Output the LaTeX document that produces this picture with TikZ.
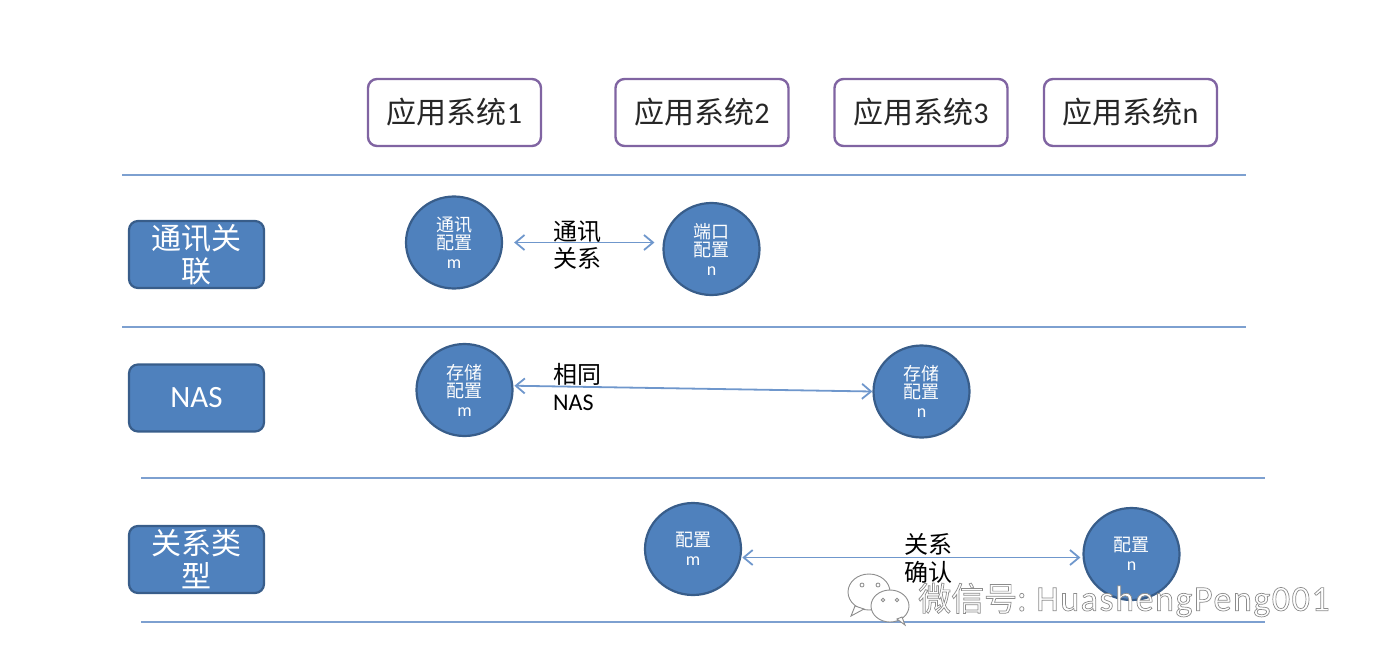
\documentclass[tikz,border=0pt]{standalone}
\usepackage{fontspec}
\setmainfont{Carlito}
\newfontfamily\cjk{Noto Sans CJK SC}
\newfontfamily\wmlatin[LetterSpace=4.3]{Carlito}
\usetikzlibrary{arrows.meta,positioning,shapes.geometric}
\definecolor{blueF}{HTML}{4F81BD}
\definecolor{blueD}{HTML}{385D8A}
\definecolor{purpleB}{HTML}{8064A2}
\definecolor{lineB}{HTML}{7DA0D0}
\definecolor{arrowB}{HTML}{6F97CC}
\newcommand{\fs}[1]{\fontsize{#1}{#1}\selectfont\lineskiplimit=-100pt\relax}
\newcommand{\circtext}[2]{\cjk\fs{18}\relax #1\\[7pt]\normalfont\fs{18}#2}
\tikzset{
  appbox/.style={draw=purpleB,line width=2.4pt,fill=white,rounded corners=9pt,minimum width=173pt,minimum height=67pt,inner sep=0pt,font=\fs{30},text=black!85},
  catbox/.style={draw=blueD,line width=2.2pt,fill=blueF,rounded corners=9pt,minimum width=135pt,minimum height=67pt,inner sep=0pt,text=white,align=center,font=\fs{30},text width=100pt},
  cfg/.style={ellipse,draw=blueD,line width=2.2pt,fill=blueF,minimum width=96pt,minimum height=92pt,inner sep=0pt,text=white,align=center,text width=50pt},
  rule/.style={draw=lineB,line width=1.6pt},
  link/.style={draw=arrowB,line width=1.8pt,{Straight Barb[length=9pt,width=15pt]}-{Straight Barb[length=9pt,width=15pt]}},
  note/.style={align=left,text=black,font=\fs{24},inner sep=0pt,anchor=west,text width=60pt},
  wechat/.style={draw=black!45,fill=white,line width=0.9pt},
  eye/.style={draw=black!45,fill=white,line width=0.8pt},
}
\begin{document}
\begin{tikzpicture}[x=1pt,y=-1pt]
\useasboundingbox (0,0) rectangle (1378,664);
% rules
\coordinate (r1a) at (122,175); \coordinate (r1b) at (1246,175);
\coordinate (r2a) at (122,327); \coordinate (r2b) at (1246,327);
\coordinate (r3a) at (141,478); \coordinate (r3b) at (1265,478);
\coordinate (r4a) at (141,622); \coordinate (r4b) at (1265,622);
\draw[rule] (r1a) -- (r1b);
\draw[rule] (r2a) -- (r2b);
\draw[rule] (r3a) -- (r3b);
\draw[rule] (r4a) -- (r4b);
% application boxes
\node[appbox] (a1) at (454.5,112.5) {{\cjk 应用系统}1};
\node[appbox] (a2) at (702,112.5) {{\cjk 应用系统}2};
\node[appbox] (a3) at (921,112.5) {{\cjk 应用系统}3};
\node[appbox] (a4) at (1130.5,112.5) {{\cjk 应用系统}n};
% category boxes
\node[catbox] (k1) at (196.5,254.5) {\cjk 通讯关\\[3pt]联};
\node[catbox] (k2) at (196.5,398) {\fs{31}NAS};
\node[catbox] (k3) at (196.5,559.5) {\cjk 关系类\\[3pt]型};
% config circles
\node[cfg] (c1) at (454,242.5) {\circtext{通讯\\配置}{m}};
\node[cfg] (c2) at (711.5,249) {\circtext{端口\\配置}{n}};
\node[cfg] (c3) at (464.5,390) {\circtext{存储\\配置}{m}};
\node[cfg] (c4) at (921.5,391.5) {\circtext{存储\\配置}{n}};
\node[cfg] (c5) at (693,549) {\circtext{配置}{m}};
\node[cfg] (c6) at (1131.5,554) {\circtext{配置}{n}};
% links
\draw[link,shorten <=11pt,shorten >=8pt] (c1.east) -- (c2.west |- c1.east);
\draw[link,shorten <=1pt,shorten >=0pt] (c3.5) -- (c4.west);
\draw[link,shorten <=1pt,shorten >=2pt] (c5.-10) -- (c6.west |- c5.-10);
% notes
\node[note] (n1) at (553,245) {\cjk 通讯\\[3pt]关系};
\node[note] (n2) at (553,387) {\cjk 相同\\[3pt]\normalfont\fs{24}NAS};
\node[note] (n3) at (904,558) {\cjk 关系\\[4pt]确认};
% watermark
\node[wechat,ellipse,minimum width=42pt,minimum height=36pt,inner sep=0pt] (w1) at (869,592) {};
\filldraw[wechat] (855,606) -- (851,616) -- (864,609) -- cycle;
\node[wechat,ellipse,minimum width=38pt,minimum height=32pt,inner sep=0pt] (w2) at (890,606) {};
\filldraw[wechat] (897,619) -- (905,625) -- (902,617) -- cycle;
\node[eye,circle,minimum size=4pt,inner sep=0pt] (e1) at (862,585) {};
\node[eye,circle,minimum size=4pt,inner sep=0pt] (e2) at (878,585) {};
\node[eye,circle,minimum size=3.5pt,inner sep=0pt] (e3) at (883,600) {};
\node[eye,circle,minimum size=3.5pt,inner sep=0pt] (e4) at (897,600) {};
\node[inner sep=0pt,anchor=west,text=white,font=\fs{33}] (wm) at (918,600) {\special{pdf:code 2 Tr 0.7 w 0.55 G}{\cjk 微信号:} {\wmlatin\fs{36}HuashengPeng001}\special{pdf:code 0 Tr 0 G 1 w}};
\end{tikzpicture}
\end{document}
